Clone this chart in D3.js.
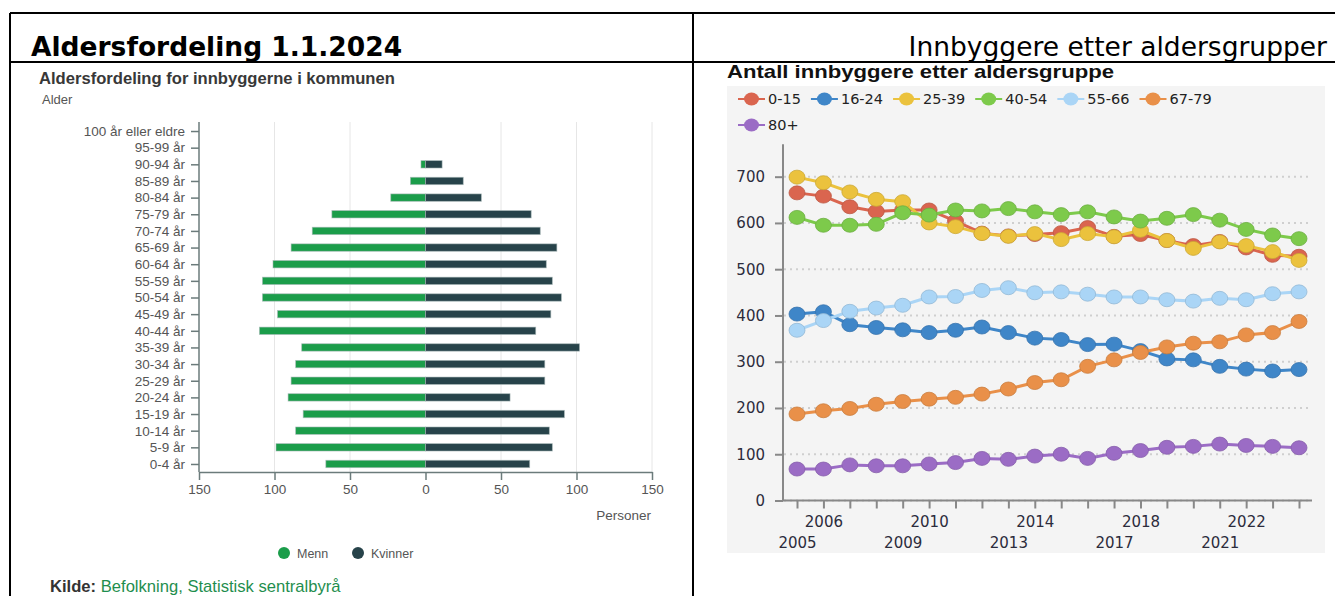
<!DOCTYPE html>
<html>
<head>
<meta charset="utf-8">
<script src="https://cdn.jsdelivr.net/npm/d3@7"></script>
<style>
  body { margin: 0; background: #fff; }
  svg { display: block; }
</style>
</head>
<body>
<div id="container"></div>
<script>
// pyramid data (left)
const ageGroups = ["100 år eller eldre", "95-99 år", "90-94 år", "85-89 år", "80-84 år", "75-79 år",
  "70-74 år", "65-69 år", "60-64 år", "55-59 år", "50-54 år", "45-49 år", "40-44 år", "35-39 år",
  "30-34 år", "25-29 år", "20-24 år", "15-19 år", "10-14 år", "5-9 år", "0-4 år"];
const menn = [0, 0, 3, 10, 23, 62, 75, 89, 101, 108, 108, 98, 110, 82, 86, 89, 91, 81, 86, 99, 66];
const kvinner = [0, 0, 11, 25, 37, 70, 76, 87, 80, 84, 90, 83, 73, 102, 79, 79, 56, 92, 82, 84, 69];
const pyramidTicks = [-150, -100, -50, 0, 50, 100, 150];

// line chart data (right)
const years = [2005, 2006, 2007, 2008, 2009, 2010, 2011, 2012, 2013, 2014,
  2015, 2016, 2017, 2018, 2019, 2020, 2021, 2022, 2023, 2024];
const yearLabels = [2005, 2006, 2009, 2010, 2013, 2014, 2017, 2018, 2021, 2022];
const groupNames = ["0-15", "16-24", "25-39", "40-54", "55-66", "67-79", "80+"];
const g0_15 = [665, 658, 635, 625, 628, 628, 604, 578, 572, 575, 579, 590, 571, 575, 562, 551, 560, 546, 530, 528];
const g16_24 = [403, 408, 380, 374, 369, 363, 368, 375, 363, 351, 348, 337, 338, 324, 306, 304, 290, 284, 280, 283];
const g25_39 = [699, 687, 667, 651, 646, 600, 592, 577, 571, 577, 564, 577, 570, 584, 562, 545, 559, 551, 538, 519];
const g40_54 = [612, 595, 595, 597, 622, 617, 628, 626, 631, 624, 618, 624, 613, 604, 610, 618, 606, 586, 574, 566];
const g55_66 = [368, 389, 409, 416, 422, 440, 441, 454, 460, 449, 451, 446, 440, 440, 434, 431, 437, 434, 447, 451];
const g67_79 = [187, 194, 199, 208, 214, 219, 223, 230, 241, 255, 261, 290, 304, 320, 332, 340, 343, 358, 363, 387];
const g80 = [68, 68, 77, 75, 75, 79, 82, 91, 89, 96, 100, 91, 102, 108, 115, 117, 122, 119, 117, 114];
const groupValues = [g0_15, g16_24, g25_39, g40_54, g55_66, g67_79, g80];
const groupColors = ["#da654f", "#3f86c8", "#ebc23d", "#7dca4b", "#aad5f6", "#e99049", "#9b6cc5"];
const yTicks = [0, 100, 200, 300, 400, 500, 600, 700];

const svg = d3.select("#container").append("svg")
  .attr("width", 1335)
  .attr("height", 596);

drawFrame();
drawPyramid();
drawLines();

function drawFrame() {
  svg.append("text")
    .attr("x", 31).attr("y", 56)
    .attr("font-family", "DejaVu Sans").attr("font-weight", "bold")
    .attr("font-size", 26.5).attr("fill", "#000")
    .text("Aldersfordeling 1.1.2024");
  svg.append("text")
    .attr("x", 1327).attr("y", 56)
    .attr("text-anchor", "end")
    .attr("font-family", "DejaVu Sans")
    .attr("font-size", 26.5).attr("fill", "#000")
    .text("Innbyggere etter aldersgrupper");

  const lines = [
    [10, 13, 1335, 13], [10, 62, 1335, 62],
    [10, 13, 10, 596], [693, 13, 693, 596]
  ];
  for (let l of lines) {
    svg.append("line")
      .attr("x1", l[0]).attr("y1", l[1]).attr("x2", l[2]).attr("y2", l[3])
      .attr("stroke", "#000").attr("stroke-width", 2);
  }
}

function drawPyramid() {
  const x = d3.scaleLinear().domain([-150, 150]).range([199, 652]);
  const y = d3.scalePoint().domain(ageGroups).range([122.7, 472.3]).padding(0.5);
  const barH = 7.4;
  const g = svg.append("g").attr("font-family", "Liberation Sans, Arial, sans-serif");

  g.append("text")
    .attr("x", 39).attr("y", 84)
    .attr("font-size", 16.6).attr("font-weight", "bold").attr("fill", "#383838")
    .text("Aldersfordeling for innbyggerne i kommunen");
  g.append("text")
    .attr("x", 42).attr("y", 104)
    .attr("font-size", 13).attr("fill", "#555")
    .text("Alder");

  // grid
  for (let t of pyramidTicks) {
    if (t === -150 || t === 0) continue;
    g.append("line")
      .attr("x1", x(t)).attr("x2", x(t))
      .attr("y1", 122).attr("y2", 472)
      .attr("stroke", "#e6e6e6").attr("stroke-width", 1);
  }

  ageGroups.forEach((age, i) => {
    g.append("rect")
      .attr("x", x(-menn[i]))
      .attr("y", y(age) - barH / 2)
      .attr("width", x(0) - x(-menn[i]))
      .attr("height", barH)
      .attr("fill", "#1b9d4a")
      .attr("stroke", "rgba(170,185,185,0.7)").attr("stroke-width", 0.8);
    g.append("rect")
      .attr("x", x(0))
      .attr("y", y(age) - barH / 2)
      .attr("width", x(kvinner[i]) - x(0))
      .attr("height", barH)
      .attr("fill", "#27434a")
      .attr("stroke", "rgba(170,185,185,0.7)").attr("stroke-width", 0.8);
  });

  const yAxis = g.append("g")
    .attr("transform", "translate(199,0)")
    .call(d3.axisLeft(y).tickSize(8).tickPadding(6));
  const xAxis = g.append("g")
    .attr("transform", "translate(0,472)")
    .call(d3.axisBottom(x).tickValues(pyramidTicks).tickFormat(d => Math.abs(d)).tickSize(8).tickPadding(4).tickSizeOuter(0));
  for (let ax of [yAxis, xAxis]) {
    ax.select(".domain").attr("stroke", "#6b7b7b").attr("stroke-width", 1.5);
    ax.selectAll(".tick line").attr("stroke", "#6b7b7b").attr("stroke-width", 1.5);
    ax.selectAll("text").attr("fill", "#555").attr("font-size", 13.5)
      .attr("font-family", "Liberation Sans, Arial, sans-serif");
  }
  xAxis.selectAll("text").attr("font-size", 13.5);
  yAxis.select(".domain").attr("d", "M0,122V472");

  g.append("text")
    .attr("x", 651).attr("y", 520)
    .attr("text-anchor", "end")
    .attr("font-size", 13.5).attr("fill", "#555")
    .text("Personer");

  // legend
  const legend = [["Menn", "#1b9d4a", 284], ["Kvinner", "#27434a", 358]];
  for (let l of legend) {
    g.append("circle").attr("cx", l[2]).attr("cy", 553).attr("r", 6).attr("fill", l[1]);
    g.append("text").attr("x", l[2] + 13).attr("y", 557.5)
      .attr("font-size", 12.5).attr("fill", "#555").text(l[0]);
  }

  const kilde = g.append("text").attr("x", 50).attr("y", 592).attr("font-size", 16.6);
  kilde.append("tspan").attr("font-weight", "bold").attr("fill", "#333").text("Kilde: ");
  kilde.append("tspan").attr("fill", "#1f8e4e").text("Befolkning, Statistisk sentralbyrå");
}

function drawLines() {
  const x = d3.scalePoint().domain(years).range([797, 1299]);
  const y = d3.scaleLinear().domain([0, 770]).range([500.5, 144.3]);

  svg.append("rect")
    .attr("x", 727).attr("y", 86).attr("width", 598).attr("height", 467)
    .attr("fill", "#f4f4f4");

  const g = svg.append("g").attr("font-family", "DejaVu Sans, Verdana, sans-serif");

  svg.append("text")
    .attr("x", 727).attr("y", 78)
    .attr("font-family", "Liberation Sans, Arial, sans-serif")
    .attr("font-weight", "bold").attr("font-size", 19)
    .attr("textLength", 387).attr("lengthAdjust", "spacingAndGlyphs")
    .attr("fill", "#111")
    .text("Antall innbyggere etter aldersgruppe");

  // legend, laid out from the text widths
  let lx = 738;
  groupNames.forEach((name, i) => {
    if (i === 6) lx = 738;
    const ly = i < 6 ? 99 : 125;
    g.append("line")
      .attr("x1", lx).attr("x2", lx + 27).attr("y1", ly).attr("y2", ly)
      .attr("stroke", groupColors[i]).attr("stroke-width", 2);
    g.append("ellipse")
      .attr("cx", lx + 13.5).attr("cy", ly).attr("rx", 7.5).attr("ry", 6.5)
      .attr("fill", groupColors[i]);
    const t = g.append("text")
      .attr("x", lx + 30).attr("y", ly + 5)
      .attr("font-size", 14.5).attr("fill", "#222")
      .text(name);
    lx += 30 + t.node().getComputedTextLength() + 10;
  });

  // grid
  for (let t of yTicks) {
    g.append("line")
      .attr("x1", 784).attr("x2", 1312)
      .attr("y1", y(t)).attr("y2", y(t))
      .attr("stroke", "#cfcfcf").attr("stroke-width", 2)
      .attr("stroke-dasharray", "2,4");
  }

  const yAxis = g.append("g")
    .attr("transform", "translate(783,0)")
    .call(d3.axisLeft(y).tickValues(yTicks).tickSize(8).tickPadding(10).tickSizeOuter(0));
  yAxis.select(".domain").attr("d", "M0,144.3V500.5");
  const xAxis = g.append("g")
    .attr("transform", "translate(0,500.5)")
    .call(d3.axisBottom(x).tickValues(years).tickSize(8).tickFormat(d => yearLabels.includes(d) ? d : ""));
  xAxis.select(".domain").attr("d", "M783,0H1312");
  xAxis.selectAll(".tick text")
    .attr("dy", d => (d % 2 === 1 ? 36 : 15) + "px");
  for (let ax of [yAxis, xAxis]) {
    ax.select(".domain").attr("stroke", "#888").attr("stroke-width", 2);
    ax.selectAll(".tick line").attr("stroke", "#888").attr("stroke-width", 2);
    ax.selectAll("text").attr("fill", "#2c2c3c").attr("font-size", 15)
      .attr("font-family", "DejaVu Sans, Verdana, sans-serif");
  }

  const line = d3.line().x((d, i) => x(years[i])).y(d => y(d));
  groupValues.forEach((values, k) => {
    const s = g.append("g");
    s.append("path")
      .attr("d", line(values))
      .attr("fill", "none")
      .attr("stroke", groupColors[k])
      .attr("stroke-width", 3);
    values.forEach((v, i) => {
      s.append("ellipse")
        .attr("cx", x(years[i]))
        .attr("cy", y(v))
        .attr("rx", 8).attr("ry", 7)
        .attr("fill", groupColors[k])
        .attr("stroke", d3.color(groupColors[k]).darker(0.4))
        .attr("stroke-width", 0.8);
    });
  });
}
</script>
</body>
</html>
